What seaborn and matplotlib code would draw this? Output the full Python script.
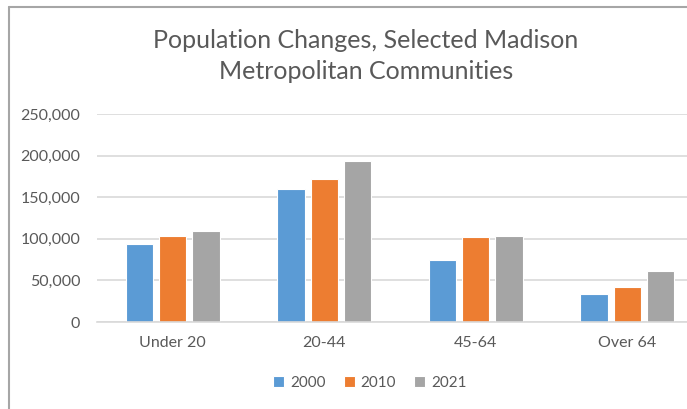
import matplotlib

matplotlib.use("Agg")
import matplotlib.pyplot as plt
import pandas as pd
import seaborn as sns
from matplotlib.lines import Line2D
from matplotlib.ticker import FuncFormatter

# values
age_groups = ["Under 20", "20-44", "45-64", "Over 64"]
years = ["2000", "2010", "2021"]
pop_2000 = [93800, 159900, 74200, 33300]
pop_2010 = [102900, 171400, 101800, 41700]
pop_2021 = [109400, 193900, 103400, 61700]
y_ticks = [0, 50000, 100000, 150000, 200000, 250000]

colors = ["#5B9BD5", "#ED7D31", "#A5A5A5"]
text_color = "#595959"
grid_color = "#D9D9D9"

rows = []
for year, values in zip(years, [pop_2000, pop_2010, pop_2021]):
    for group, val in zip(age_groups, values):
        rows.append({"group": group, "year": year, "population": val})
df = pd.DataFrame(rows)

sns.set_theme(style="white")
plt.rcParams["font.family"] = ["Lato", "DejaVu Sans"]

fig = plt.figure(figsize=(6.87, 4.09), dpi=100)
ax = fig.add_axes([97 / 687, 1 - 322 / 409, 606 / 687, 208 / 409])

sns.barplot(
    data=df,
    x="group",
    y="population",
    hue="year",
    order=age_groups,
    hue_order=years,
    palette=colors,
    width=0.66,
    gap=0.18,
    edgecolor="white",
    linewidth=0.8,
    saturation=1,
    ax=ax,
)

ax.set_ylim(0, 250000)
ax.set_yticks(y_ticks)
ax.yaxis.set_major_formatter(FuncFormatter(lambda v, _: f"{int(v):,}"))
ax.grid(axis="y", color=grid_color, linewidth=1.2)
ax.set_axisbelow(True)
for side in ["top", "right", "left"]:
    ax.spines[side].set_visible(False)
ax.spines["bottom"].set_color(grid_color)
ax.spines["bottom"].set_linewidth(1.2)
ax.tick_params(axis="y", length=0, pad=12, labelsize=11.5, labelcolor=text_color)
ax.tick_params(axis="x", length=0, pad=10, labelsize=11.5, labelcolor=text_color)
ax.set_xlabel("")
ax.set_ylabel("")

handles, labels = ax.get_legend_handles_labels()
ax.get_legend().remove()
fig.legend(
    handles,
    labels,
    loc="center",
    bbox_to_anchor=(370 / 687, 1 - 383 / 409),
    ncol=3,
    frameon=False,
    fontsize=11,
    labelcolor=text_color,
    handlelength=0.7,
    handleheight=0.7,
    handletextpad=0.4,
    columnspacing=1.2,
)

fig.text(
    366 / 687,
    1 - 56 / 409,
    "Population Changes, Selected Madison\nMetropolitan Communities",
    ha="center",
    va="center",
    fontsize=18,
    color=text_color,
    linespacing=1.45,
)

# chart-area border (cropped at right and bottom in the reference)
fig.add_artist(Line2D([9 / 687, 9 / 687], [0, 1 - 7 / 409], color="#A6A6A6", linewidth=1.5))
fig.add_artist(Line2D([9 / 687, 1], [1 - 7 / 409, 1 - 7 / 409], color="#A6A6A6", linewidth=1.5))

fig.savefig("out.png", dpi=100)
